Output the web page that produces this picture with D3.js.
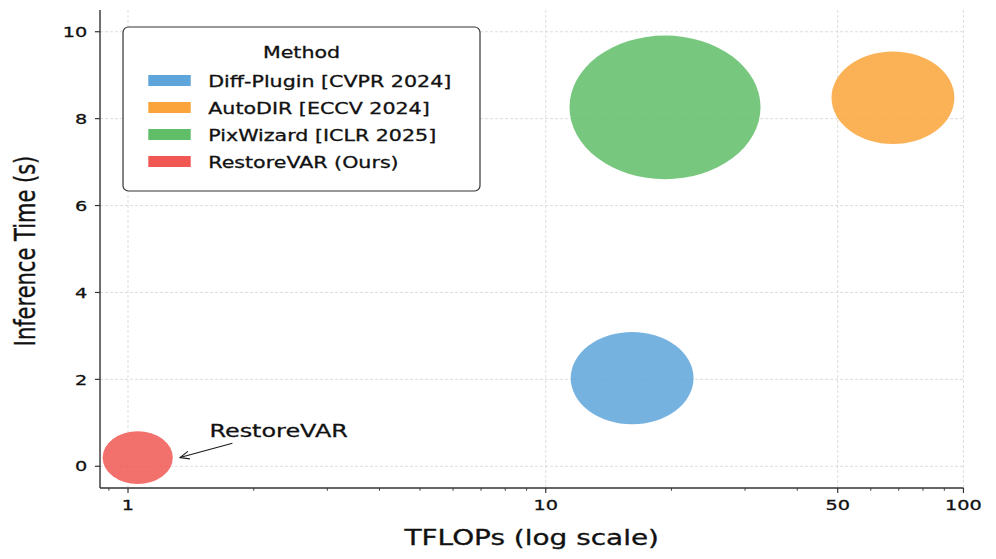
<!DOCTYPE html>
<html><head><meta charset="utf-8">
<script src="https://cdn.jsdelivr.net/npm/d3@7"></script>
<style>html,body{margin:0;padding:0;background:#fff;overflow:hidden}svg{display:block}text{font-family:"DejaVu Sans",sans-serif;fill:#111;stroke:#111;stroke-width:0.3px}</style>
</head><body>
<script>
// ---- data ----
const methods = ["Diff-Plugin [CVPR 2024]", "AutoDIR [ECCV 2024]", "PixWizard [ICLR 2025]", "RestoreVAR (Ours)"];
const tflops = [16.1, 67.8, 19.3, 1.055];
const inferenceTime = [2.03, 8.48, 8.26, 0.2];
const bubbleSize = [3.06, 3.06, 7.4, 1];
const colors = ["#5DA5DA", "#FAA43A", "#60BD68", "#F15854"];
const xTickValues = [1, 10, 50, 100];
const xTickLabels = ["1", "10", "50", "100"];
const yTickValues = [0, 2, 4, 6, 8, 10];
const annotText = "RestoreVAR";
const annotTextPos = [1.566, 0.68];
const annotTail = [1.778, 0.53];
const annotHead = [1.332, 0.2];

// ---- layout ----
const SW = 996, SH = 559, sx = 1.33;
const W = SW / sx, H = SH;
const svg = d3.select("body").append("svg")
  .attr("width", SW).attr("height", SH)
  .attr("viewBox", `0 0 ${W} ${H}`).attr("preserveAspectRatio", "none");

const L = 75.2, R = 724.4, T = 10, B = 488;
const x = d3.scaleLog().domain([0.857, 100]).range([L, R]);
const y = d3.scaleLinear().domain([-0.5, 10.5]).range([B, T]);
const r = d3.scaleSqrt().domain([0, 1]).range([0, 26.4]);

// grid
const grid = svg.append("g").attr("stroke", "#d4d4d4").attr("stroke-width", 0.8)
  .attr("stroke-dasharray", "3,2").attr("fill", "none");
grid.selectAll("line.gx").data(xTickValues).join("line")
  .attr("x1", d => x(d)).attr("x2", d => x(d)).attr("y1", T).attr("y2", B)
  .attr("vector-effect", "non-scaling-stroke");
grid.selectAll("line.gy").data(yTickValues).join("line")
  .attr("x1", L).attr("x2", R).attr("y1", d => y(d)).attr("y2", d => y(d))
  .attr("vector-effect", "non-scaling-stroke");

// bubbles
const data = methods.map((m, i) => ({ m, x: tflops[i], y: inferenceTime[i], s: bubbleSize[i], c: colors[i] }));
svg.append("g").selectAll("circle").data(data).join("circle")
  .attr("cx", d => x(d.x)).attr("cy", d => y(d.y)).attr("r", d => r(d.s))
  .attr("fill", d => d.c).attr("fill-opacity", 0.85);

// axes
const axisColor = "#333";
const xAxis = svg.append("g");
xAxis.append("line").attr("x1", L).attr("x2", R).attr("y1", B).attr("y2", B)
  .attr("stroke", axisColor).attr("stroke-width", 1.4).attr("vector-effect", "non-scaling-stroke");
const minorX = [];
[0.9, 2, 3, 4, 5, 6, 7, 8, 9, 20, 30, 40, 60, 70, 80, 90].forEach(v => { if (x(v) >= L && x(v) <= R) minorX.push(v); });
xAxis.selectAll("line.mn").data(minorX).join("line")
  .attr("x1", d => x(d)).attr("x2", d => x(d)).attr("y1", B).attr("y2", B + 2.8)
  .attr("stroke", axisColor).attr("stroke-width", 0.9).attr("vector-effect", "non-scaling-stroke");
xAxis.selectAll("line.mj").data(xTickValues).join("line")
  .attr("x1", d => x(d)).attr("x2", d => x(d)).attr("y1", B).attr("y2", B + 5)
  .attr("stroke", axisColor).attr("stroke-width", 1.2).attr("vector-effect", "non-scaling-stroke");
xAxis.selectAll("text").data(xTickValues).join("text")
  .attr("x", d => x(d)).attr("y", B + 22).attr("text-anchor", "middle")
  .attr("font-size", 14.5).text((d, i) => xTickLabels[i]);

const yAxis = svg.append("g");
yAxis.append("line").attr("x1", L).attr("x2", L).attr("y1", T).attr("y2", B)
  .attr("stroke", axisColor).attr("stroke-width", 1.4).attr("vector-effect", "non-scaling-stroke");
yAxis.selectAll("line.t").data(yTickValues).join("line")
  .attr("x1", L - 3.8).attr("x2", L).attr("y1", d => y(d)).attr("y2", d => y(d))
  .attr("stroke", axisColor).attr("stroke-width", 1.2).attr("vector-effect", "non-scaling-stroke");
yAxis.selectAll("text").data(yTickValues).join("text")
  .attr("x", L - 9.5).attr("y", d => y(d)).attr("dy", "0.36em").attr("text-anchor", "end")
  .attr("font-size", 14.5).text(d => d);

// axis labels
svg.append("text").attr("x", (L + R) / 2).attr("y", 545).attr("text-anchor", "middle")
  .attr("font-size", 21).text("TFLOPs (log scale)");
svg.append("text").attr("transform", `translate(26.3,251) rotate(-90)`).attr("text-anchor", "middle")
  .attr("font-size", 21).text("Inference Time (s)");

// annotation
svg.append("text").attr("x", x(annotTextPos[0])).attr("y", y(annotTextPos[1]))
  .attr("font-size", 18).text(annotText);
const hx = x(annotHead[0]), hy = y(annotHead[1]), tx = x(annotTail[0]), ty = y(annotTail[1]);
const ang = Math.atan2((ty - hy), (tx - hx) * sx);
const hl = 10, ha = 0.4;
const p1 = [hx + hl * Math.cos(ang + ha) / sx, hy + hl * Math.sin(ang + ha)];
const p2 = [hx + hl * Math.cos(ang - ha) / sx, hy + hl * Math.sin(ang - ha)];
const ag = svg.append("g").attr("stroke", "#1a1a1a").attr("stroke-width", 1.1).attr("fill", "none");
ag.append("line").attr("x1", tx).attr("y1", ty).attr("x2", hx).attr("y2", hy).attr("vector-effect", "non-scaling-stroke");
ag.append("path").attr("d", `M${p1[0]},${p1[1]}L${hx},${hy}L${p2[0]},${p2[1]}`).attr("vector-effect", "non-scaling-stroke");

// legend
const lg = svg.append("g");
lg.append("rect").attr("x", 92.5).attr("y", 27).attr("width", 268.4).attr("height", 164)
  .attr("rx", 4).attr("ry", 5.3).attr("fill", "#fff").attr("stroke", "#333").attr("stroke-width", 1.2)
  .attr("vector-effect", "non-scaling-stroke");
lg.append("text").attr("x", 226.7).attr("y", 58).attr("text-anchor", "middle").attr("font-size", 15.5).text("Method");
const rows = lg.selectAll("g.row").data(data).join("g").attr("transform", (d, i) => `translate(0,${86.5 + i * 27})`);
rows.append("rect").attr("x", 111.5).attr("y", -11.5).attr("width", 31.9).attr("height", 11).attr("fill", d => d.c);
rows.append("text").attr("x", 156.6).attr("y", 0).attr("font-size", 15.5).text(d => d.m);
</script>
</body></html>
